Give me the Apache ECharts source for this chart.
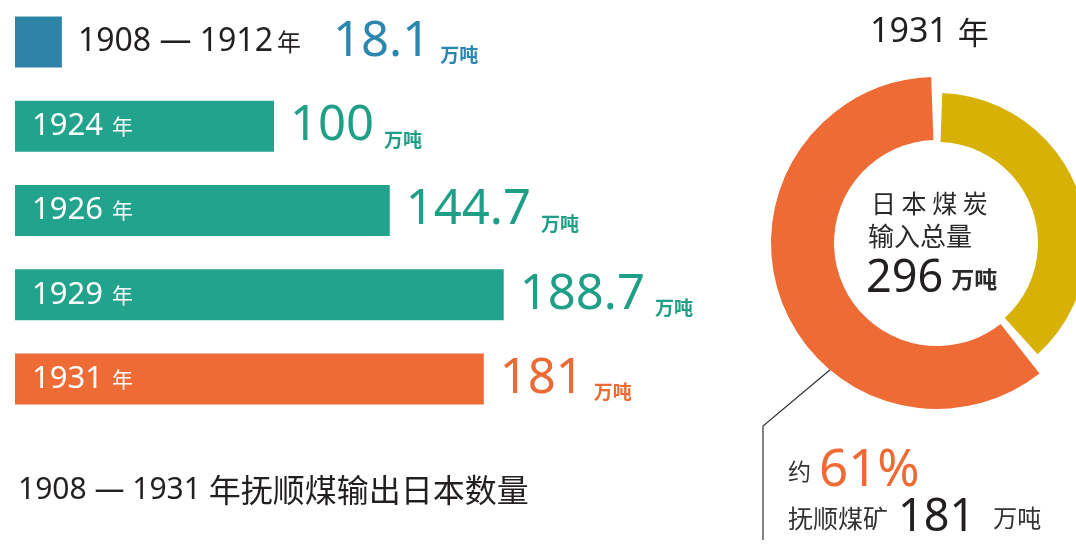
<!DOCTYPE html>
<html>
<head>
<meta charset="utf-8">
<script src="https://cdn.jsdelivr.net/npm/echarts@6/dist/echarts.min.js"></script>
<style>
html, body { margin: 0; padding: 0; background: #fff; }
#main { width: 1076px; height: 559px; }
</style>
</head>
<body>
<div id="main"></div>
<script>
// 抚顺煤输出日本数量 (万吨)
var periods = ['1908 — 1912', '1924', '1926', '1929', '1931'];
var exportsToJapan = [18.1, 100, 144.7, 188.7, 181];
var barColors = ['#2d84a6', '#22a38e', '#22a38e', '#22a38e', '#ee6b36'];
var valueColors = ['#2b86b0', '#1f9e88', '#1f9e88', '#1f9e88', '#ec6a33'];

// 1931 年日本煤炭输入 (万吨)
var totalImport = 296;
var shareNames = ['其他', '抚顺煤矿'];
var shareValues = [115, 181];
var shareColors = ['#d7b106', '#ee6b36'];
var shareRadii = [[101, 150], [103, 166]];

var FONT = '"Noto Sans", "Noto Sans CJK SC", sans-serif';
var CJK = '"Noto Sans CJK SC", sans-serif';
var DARK = '#231f20';

var chart = echarts.init(document.getElementById('main'));

var valueRich = {
  yr: { fontFamily: FONT, fontSize: 32, color: DARK },
  yn: { fontFamily: CJK, fontSize: 24, color: DARK, padding: [0, 0, 0, 4] }
};
valueColors.forEach(function (c, i) {
  valueRich['v' + i] = { fontFamily: FONT, fontSize: 49, color: c, padding: [0, 0, 0, i === 0 ? 32 : 0] };
  valueRich['u' + i] = { fontFamily: CJK, fontSize: 19, fontWeight: 'bold', color: c,
    verticalAlign: 'bottom', lineHeight: 22, padding: [0, 0, 2, 10] };
});

var barData = exportsToJapan.map(function (v, i) {
  return { value: v, itemStyle: { color: barColors[i] }, label: { show: i > 0 } };
});
var valueData = exportsToJapan.map(function (v, i) {
  var head = i === 0 ? '{yr|' + periods[0] + '}{yn|年}' : '';
  return { value: v, label: { formatter: head + '{v' + i + '|' + v + '}{u' + i + '|万吨}' } };
});

function ringData(k) {
  return shareValues.map(function (v, i) {
    return { name: shareNames[i], value: v,
      itemStyle: { color: i === k ? shareColors[i] : 'rgba(0,0,0,0)' } };
  });
}
function ring(k) {
  return {
    type: 'pie', silent: true, center: [937, 243], radius: shareRadii[k],
    startAngle: 90, clockwise: true, padAngle: 4,
    label: { show: false }, labelLine: { show: false },
    data: ringData(k)
  };
}

var pct = Math.round(shareValues[1] / totalImport * 100);

chart.setOption({
  animation: false,
  backgroundColor: '#fff',
  grid: { left: 15, right: 25, top: -4, height: 425 },
  xAxis: { type: 'value', min: 0, max: 400, show: false },
  yAxis: { type: 'category', data: periods, inverse: true, show: false },
  series: [
    {
      type: 'bar', barWidth: 51, silent: true, data: barData,
      label: {
        position: 'insideLeft', distance: 17,
        formatter: function (p) { return '{y|' + periods[p.dataIndex] + '}{n|年}'; },
        rich: {
          y: { fontFamily: FONT, fontSize: 31, color: '#fff' },
          n: { fontFamily: CJK, fontSize: 21, color: '#fff', padding: [0, 0, 0, 9] }
        }
      }
    },
    {
      type: 'bar', barWidth: 51, barGap: '-100%', silent: true, data: valueData,
      itemStyle: { color: 'rgba(0,0,0,0)' },
      label: { show: true, position: 'right', distance: 16, rich: valueRich }
    },
    ring(0),
    ring(1)
  ],
  graphic: [
    { type: 'text', left: 18, top: 474, style: {
      text: '{d|1908 — 1931 }{c|年抚顺煤输出日本数量}',
      rich: {
        d: { fontFamily: FONT, fontSize: 30, fill: DARK },
        c: { fontFamily: CJK, fontSize: 32, fill: DARK }
      } } },
    { type: 'text', x: 870, y: 32, style: {
      text: '{d|1931}{c|年}', verticalAlign: 'middle',
      rich: {
        d: { fontFamily: FONT, fontSize: 34, fill: DARK },
        c: { fontFamily: CJK, fontSize: 31, fill: DARK, padding: [0, 0, 0, 10] }
      } } },
    { type: 'text', x: 871, y: 203, style: {
      text: '日 本 煤 炭', font: '25px ' + CJK, fill: '#2a2a2a', verticalAlign: 'middle' } },
    { type: 'text', x: 868, y: 236, style: {
      text: '输入总量', font: '26px ' + CJK, fill: '#2a2a2a', verticalAlign: 'middle' } },
    { type: 'text', x: 866, y: 279, style: {
      text: '{d|' + totalImport + '}{c|万吨}', verticalAlign: 'middle',
      rich: {
        d: { fontFamily: FONT, fontSize: 45, fill: DARK },
        c: { fontFamily: CJK, fontSize: 23, fontWeight: 'bold', fill: '#2a2a2a', padding: [0, 0, 0, 8] }
      } } },
    { type: 'polyline', shape: { points: [[837, 364], [763, 426], [763, 540]] },
      style: { stroke: '#333', lineWidth: 1.2, fill: null } },
    { type: 'text', x: 788, y: 471, style: {
      text: '{a|约}{b|' + pct + '%}', verticalAlign: 'middle',
      rich: {
        a: { fontFamily: CJK, fontSize: 23, fill: '#333' },
        b: { fontFamily: FONT, fontSize: 51, fill: '#ee6b36', padding: [0, 0, 0, 8] }
      } } },
    { type: 'text', x: 788, y: 518, style: {
      text: '{a|' + shareNames[1] + '}{b|' + shareValues[1] + '}{c|万吨}', verticalAlign: 'middle',
      rich: {
        a: { fontFamily: CJK, fontSize: 25, fill: '#333' },
        b: { fontFamily: FONT, fontSize: 45, fill: DARK, padding: [0, 0, 0, 10] },
        c: { fontFamily: CJK, fontSize: 24, fill: '#333', padding: [0, 0, 0, 18] }
      } } }
  ]
});
</script>
</body>
</html>
